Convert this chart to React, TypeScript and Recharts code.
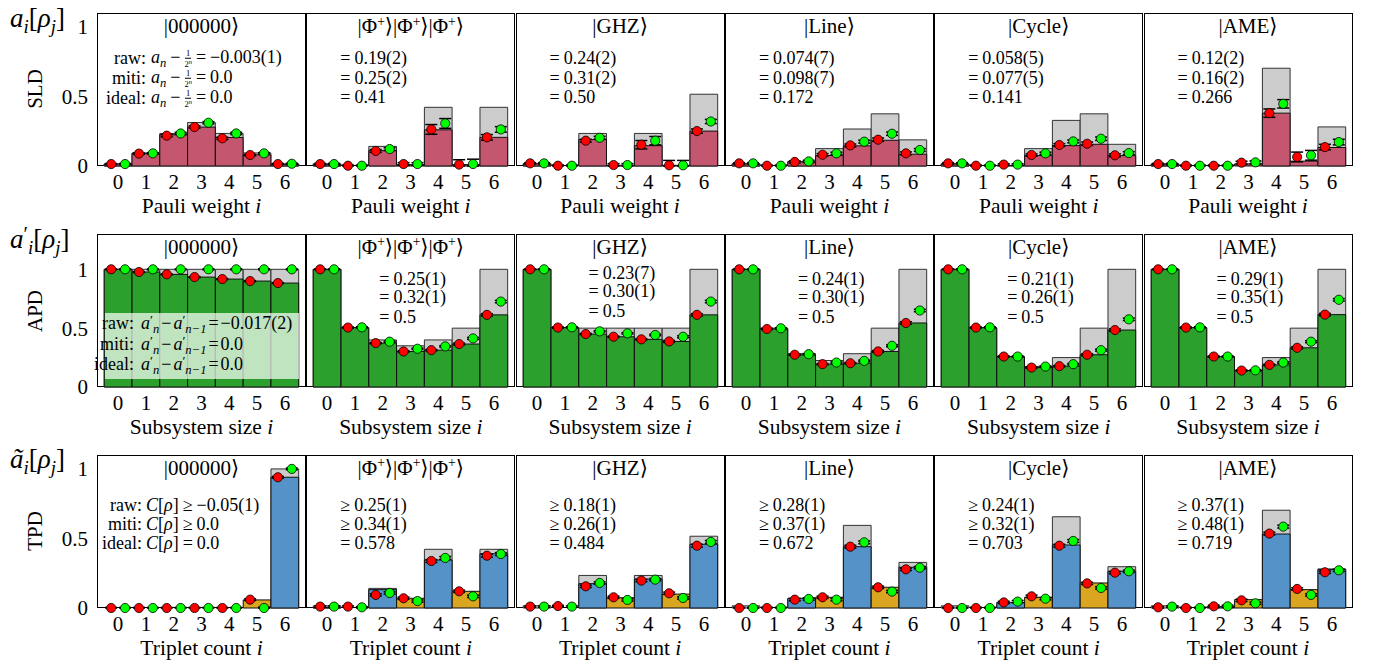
import React from "react";
import { ComposedChart, Bar, Scatter, XAxis, YAxis, ErrorBar, Cell } from "recharts";

// ── layout ──
const SERIF = "'Liberation Serif', 'Times New Roman', 'DejaVu Serif', serif";
const COL_X = [97, 306.3, 515.6, 724.9, 934.2, 1143.5];
const ROW_TOP = [13, 233.5, 454.5];
const PW = 209;
const PH = 153;
const XAXIS_H = 30;
const LABEL_W = 45;
const XDOM = [-0.76, 6.76];
const DODGE = 0.25;

const PINK = "#c4566f";
const GREEN = "#2ca02c";
const BLUE = "#5592c8";
const GOLD = "#daa520";
const GRAY = "#cccccc";

// ── data ──
const IDX = [0, 1, 2, 3, 4, 5, 6];
const Y_TICKS = [0, 0.5, 1];
const STATES = ["000000", "Φ+", "GHZ", "Line", "Cycle", "AME"];

// Row 1: SLD (Pauli weight)
const sldIdeal = [
  [0.0156, 0.094, 0.234, 0.3125, 0.234, 0.094, 0.0156],
  [0.0156, 0, 0.141, 0, 0.422, 0, 0.422],
  [0.0156, 0, 0.234, 0, 0.234, 0, 0.516],
  [0.0156, 0, 0.031, 0.125, 0.266, 0.375, 0.188],
  [0.0156, 0, 0, 0.125, 0.328, 0.375, 0.156],
  [0.0156, 0, 0, 0, 0.703, 0, 0.281],
];
const sldBar = [
  [0.014, 0.089, 0.225, 0.28, 0.205, 0.08, 0.012],
  [0.012, 0, 0.11, 0.01, 0.26, 0.01, 0.206],
  [0.016, 0, 0.19, 0.005, 0.146, 0.005, 0.251],
  [0.015, 0, 0.03, 0.075, 0.145, 0.185, 0.085],
  [0.015, 0, 0.005, 0.075, 0.147, 0.156, 0.075],
  [0.013, 0, 0, 0.015, 0.38, 0.035, 0.133],
];
const sldRaw = [
  [0.014, 0.089, 0.218, 0.28, 0.199, 0.079, 0.014],
  [0.014, 0.002, 0.108, 0.014, 0.263, 0.01, 0.206],
  [0.019, 0.002, 0.182, 0.007, 0.153, 0.005, 0.251],
  [0.019, 0.002, 0.029, 0.081, 0.148, 0.189, 0.091],
  [0.019, 0.002, 0.01, 0.079, 0.151, 0.16, 0.077],
  [0.014, 0.002, 0.002, 0.024, 0.38, 0.065, 0.136],
];
const sldMiti = [
  [0.014, 0.091, 0.234, 0.311, 0.234, 0.091, 0.016],
  [0.014, 0.002, 0.122, 0.014, 0.306, 0.014, 0.263],
  [0.019, 0.002, 0.203, 0.007, 0.182, 0.005, 0.32],
  [0.019, 0.002, 0.033, 0.091, 0.175, 0.232, 0.115],
  [0.019, 0.002, 0.01, 0.091, 0.177, 0.196, 0.093],
  [0.014, 0.002, 0.002, 0.026, 0.447, 0.077, 0.172],
];
const sldErr = [
  [0.004, 0.005, 0.008, 0.008, 0.008, 0.005, 0.004],
  [0.005, 0.005, 0.01, 0.01, 0.035, 0.035, 0.02],
  [0.005, 0.005, 0.01, 0.01, 0.03, 0.035, 0.015],
  [0.005, 0.005, 0.008, 0.008, 0.01, 0.012, 0.01],
  [0.005, 0.005, 0.006, 0.008, 0.01, 0.012, 0.01],
  [0.005, 0.005, 0.005, 0.01, 0.03, 0.035, 0.02],
];

// Row 2: APD (subsystem size)
const apdIdeal = [
  [1, 1, 1, 1, 1, 1, 1],
  [1, 0.5, 0.4, 0.35, 0.4, 0.5, 1],
  [1, 0.5, 0.5, 0.5, 0.5, 0.5, 1],
  [1, 0.5, 0.283, 0.225, 0.283, 0.5, 1],
  [1, 0.5, 0.25, 0.175, 0.25, 0.5, 1],
  [1, 0.5, 0.25, 0.125, 0.25, 0.5, 1],
];
const apdRaw = [
  [1.0, 0.977, 0.957, 0.934, 0.917, 0.9, 0.883],
  [1.0, 0.505, 0.373, 0.302, 0.313, 0.365, 0.613],
  [1.0, 0.505, 0.45, 0.427, 0.405, 0.387, 0.613],
  [1.0, 0.493, 0.274, 0.194, 0.202, 0.302, 0.544],
  [1.0, 0.505, 0.259, 0.165, 0.177, 0.274, 0.484],
  [1.0, 0.505, 0.259, 0.14, 0.188, 0.333, 0.615],
];
const apdMiti = [
  [1.0, 1.0, 1.0, 1.0, 1.0, 1.0, 1.0],
  [1.0, 0.507, 0.385, 0.325, 0.345, 0.413, 0.726],
  [1.0, 0.507, 0.473, 0.456, 0.442, 0.427, 0.726],
  [1.0, 0.499, 0.279, 0.208, 0.222, 0.35, 0.65],
  [1.0, 0.507, 0.259, 0.174, 0.194, 0.313, 0.575],
  [1.0, 0.507, 0.259, 0.142, 0.208, 0.385, 0.741],
];
const apdErr = [
  [0.003, 0.004, 0.004, 0.004, 0.004, 0.004, 0.004],
  [0.003, 0.005, 0.005, 0.005, 0.006, 0.008, 0.01],
  [0.003, 0.005, 0.005, 0.005, 0.006, 0.008, 0.01],
  [0.003, 0.005, 0.005, 0.005, 0.006, 0.008, 0.01],
  [0.003, 0.005, 0.005, 0.005, 0.006, 0.008, 0.01],
  [0.003, 0.005, 0.005, 0.005, 0.006, 0.008, 0.01],
];

// Row 3: TPD (triplet count)
const tpdIdeal = [
  [0, 0, 0, 0, 0, 0, 1],
  [0.0156, 0, 0.141, 0, 0.422, 0, 0.422],
  [0.0156, 0, 0.234, 0, 0.234, 0, 0.516],
  [0.0156, 0, 0.0625, 0, 0.594, 0, 0.328],
  [0.0156, 0, 0.031, 0, 0.656, 0, 0.297],
  [0.0156, 0, 0, 0, 0.703, 0, 0.281],
];
const tpdBar = [
  [0, 0, 0, 0, 0, 0.058, 0.94],
  [0.005, 0, 0.132, 0.07, 0.345, 0.12, 0.39],
  [0, 0, 0.175, 0.074, 0.208, 0.1, 0.458],
  [0, 0, 0.07, 0.077, 0.441, 0.149, 0.293],
  [0, 0, 0.04, 0.077, 0.453, 0.18, 0.264],
  [0, 0, 0.01, 0.06, 0.532, 0.132, 0.276],
];
const tpdRaw = [
  [0, 0, 0, 0, 0, 0.06, 0.94],
  [0.01, 0.01, 0.094, 0.07, 0.338, 0.12, 0.376],
  [0.01, 0.014, 0.156, 0.077, 0.197, 0.106, 0.448],
  [0, 0, 0.06, 0.077, 0.441, 0.149, 0.278],
  [0, 0, 0.04, 0.084, 0.448, 0.177, 0.254],
  [0.005, 0, 0.012, 0.055, 0.535, 0.137, 0.257],
];
const tpdMiti = [
  [0, 0, 0, 0, 0, 0, 1.0],
  [0.01, 0.005, 0.108, 0.05, 0.36, 0.084, 0.388],
  [0.01, 0.01, 0.18, 0.058, 0.204, 0.072, 0.475],
  [0, 0, 0.065, 0.06, 0.472, 0.118, 0.29],
  [0, 0, 0.046, 0.067, 0.482, 0.144, 0.264],
  [0.01, 0, 0.012, 0.034, 0.585, 0.094, 0.271],
];
const tpdErr = [
  [0.004, 0.004, 0.004, 0.004, 0.004, 0.006, 0.006],
  [0.005, 0.005, 0.008, 0.008, 0.01, 0.008, 0.01],
  [0.005, 0.005, 0.008, 0.008, 0.008, 0.008, 0.01],
  [0.005, 0.005, 0.008, 0.008, 0.01, 0.008, 0.008],
  [0.005, 0.005, 0.008, 0.008, 0.01, 0.008, 0.008],
  [0.005, 0.005, 0.008, 0.008, 0.01, 0.008, 0.008],
];

// annotations (panels 2..6)
const sldNotes = [
  ["0.19(2)", "0.25(2)", "0.41"],
  ["0.24(2)", "0.31(2)", "0.50"],
  ["0.074(7)", "0.098(7)", "0.172"],
  ["0.058(5)", "0.077(5)", "0.141"],
  ["0.12(2)", "0.16(2)", "0.266"],
];
const apdNotes = [
  ["0.25(1)", "0.32(1)", "0.5"],
  ["0.23(7)", "0.30(1)", "0.5"],
  ["0.24(1)", "0.30(1)", "0.5"],
  ["0.21(1)", "0.26(1)", "0.5"],
  ["0.29(1)", "0.35(1)", "0.5"],
];
const tpdNotes = [
  ["0.25(1)", "0.34(1)", "0.578"],
  ["0.18(1)", "0.26(1)", "0.484"],
  ["0.28(1)", "0.37(1)", "0.672"],
  ["0.24(1)", "0.32(1)", "0.703"],
  ["0.37(1)", "0.48(1)", "0.719"],
];

const ROWS = [
  { ideal: sldIdeal, bar: sldBar, raw: sldRaw, miti: sldMiti, err: sldErr, max: 1.1, fill: PINK, xlabel: "Pauli weight", notes: sldNotes, rel: ["=", "=", "="], noteDx: 34, noteY: [58, 78, 97] },
  { ideal: apdIdeal, bar: apdRaw, raw: apdRaw, miti: apdMiti, err: apdErr, max: 1.3, fill: GREEN, xlabel: "Subsystem size", notes: apdNotes, rel: ["=", "=", "="], noteDx: 73, noteY: [279, 297, 317] },
  { ideal: tpdIdeal, bar: tpdBar, raw: tpdRaw, miti: tpdMiti, err: tpdErr, max: 1.1, fill: BLUE, xlabel: "Triplet count", notes: tpdNotes, rel: ["≥", "≥", "="], noteDx: 34, noteY: [505, 524, 543] },
];

// ── small text helpers ──
const I = ({ children }: any) => <span style={{ fontStyle: "italic" }}>{children}</span>;
const Sub = ({ children }: any) => (
  <span style={{ fontSize: "0.7em", fontStyle: "italic", position: "relative", top: "0.3em" }}>{children}</span>
);
const Op = ({ children, m = 4 }: any) => <span style={{ margin: `0 ${m}px` }}>{children}</span>;
const PrimeSub = ({ sub }: any) => (
  <>
    <span style={{ fontSize: "0.75em", position: "relative", top: "-0.35em" }}>′</span>
    <span style={{ fontSize: "0.7em", fontStyle: "italic", position: "relative", top: "0.3em" }}>{sub}</span>
  </>
);
const Frac = () => (
  <span style={{ display: "inline-flex", flexDirection: "column", alignItems: "center", verticalAlign: "middle", fontSize: 8.5, lineHeight: 0.95 }}>
    <span style={{ borderBottom: "0.8px solid #000", padding: "0 1px 1px" }}>1</span>
    <span style={{ paddingTop: 1 }}>
      2<span style={{ fontSize: 6.5, fontStyle: "italic", position: "relative", top: -3 }}>n</span>
    </span>
  </span>
);

function Abs({ x, y, children, size = 18, align = "left", style }: any) {
  const tx = align === "center" ? "-50%" : align === "right" ? "-100%" : "0";
  return (
    <div
      style={{
        position: "absolute",
        left: x,
        top: y,
        transform: `translate(${tx}, -50%)`,
        fontSize: size,
        fontFamily: SERIF,
        whiteSpace: "nowrap",
        lineHeight: 1,
        color: "#000",
        ...style,
      }}
    >
      {children}
    </div>
  );
}

function Ket({ name }: { name: string }) {
  if (name === "Φ+") {
    const one = (k: number) => (
      <span key={k}>
        |Φ<span style={{ fontSize: "0.65em", position: "relative", top: "-0.55em" }}>+</span>⟩
      </span>
    );
    return <>{[0, 1, 2].map(one)}</>;
  }
  return <span>|{name}⟩</span>;
}

// ── one panel ──
function Panel({ r, c }: { r: number; c: number }) {
  const spec = ROWS[r];
  const data = IDX.map((i) => ({ x: i, ideal: spec.ideal[c][i], bar: spec.bar[c][i] }));
  const pts = (src: number[][], dx: number) =>
    IDX.map((i) => ({ x: i + dx, y: src[c][i], e: [Math.min(spec.err[c][i], src[c][i]), spec.err[c][i]] }));
  const red = pts(spec.raw, -DODGE);
  const green = pts(spec.miti, DODGE);
  const extra = c === 0 ? LABEL_W : 0;
  const tickStyle = { fontSize: 21, fill: "#000", fontFamily: SERIF };
  const dot = (fill: string) => (p: any) => (
    <circle cx={p.cx} cy={p.cy} r={4.6} fill={fill} stroke="#000" strokeWidth={0.8} />
  );

  return (
    <div style={{ position: "absolute", left: COL_X[c] - extra, top: ROW_TOP[r] }}>
      <ComposedChart
        width={PW + extra}
        height={PH + XAXIS_H}
        data={data}
        margin={{ top: 0, right: 0, bottom: 0, left: 0 }}
        barCategoryGap={0}
        barGap={0}
      >
        <XAxis
          xAxisId="a"
          type="number"
          dataKey="x"
          domain={XDOM}
          ticks={IDX}
          interval={0}
          height={XAXIS_H}
          tickLine={false}
          axisLine={false}
          tickSize={0}
          tickMargin={8}
          tick={tickStyle}
        />
        <XAxis xAxisId="b" type="number" dataKey="x" domain={XDOM} ticks={IDX} hide />
        <XAxis xAxisId="pts" type="number" dataKey="x" domain={XDOM} ticks={IDX} hide />
        <YAxis
          yAxisId="v"
          type="number"
          domain={[0, spec.max]}
          ticks={Y_TICKS}
          hide={c !== 0}
          width={LABEL_W}
          tickLine={false}
          axisLine={false}
          tickSize={0}
          tickMargin={9}
          tick={tickStyle}
          tickFormatter={(v: number) => String(v)}
        />
        <YAxis
          yAxisId="m"
          type="number"
          domain={[0, spec.max]}
          ticks={Y_TICKS}
          mirror
          tick={false}
          axisLine={false}
          tickSize={4}
          tickLine={{ stroke: "#000", strokeWidth: 1 }}
        />
        <Bar xAxisId="b" yAxisId="v" dataKey="ideal" barSize={27.7} fill={GRAY} stroke="#333" strokeWidth={1} isAnimationActive={false} />
        <Bar xAxisId="a" yAxisId="v" dataKey="bar" barSize={27.7} fill={spec.fill} stroke="#111" strokeWidth={1} isAnimationActive={false}>
          {data.map((d) => (
            <Cell key={d.x} fill={r === 2 ? (d.x % 2 === 1 ? GOLD : BLUE) : spec.fill} />
          ))}
        </Bar>
        <Scatter xAxisId="pts" yAxisId="v" data={red} dataKey="y" shape={dot("#ff0000")} isAnimationActive={false}>
          <ErrorBar dataKey="e" direction="y" width={6} stroke="#000" strokeWidth={1.5} isAnimationActive={false} />
        </Scatter>
        <Scatter xAxisId="pts" yAxisId="v" data={green} dataKey="y" shape={dot("#00ff00")} isAnimationActive={false}>
          <ErrorBar dataKey="e" direction="y" width={6} stroke="#000" strokeWidth={1.5} isAnimationActive={false} />
        </Scatter>
      </ComposedChart>
    </div>
  );
}

export default function App() {
  const cells: [number, number][] = [];
  ROW_TOP.forEach((_, r) => COL_X.forEach((__, c) => cells.push([r, c])));
  const labs = ["raw:", "miti:", "ideal:"];

  return (
    <div style={{ position: "absolute", left: 0, top: 0, width: 1384, height: 666, background: "#fff", fontFamily: SERIF }}>
      {/* panel frames (under the charts so dots sit over the axis) */}
      {cells.map(([r, c]) => (
        <div
          key={`f${r}${c}`}
          style={{ position: "absolute", left: COL_X[c], top: ROW_TOP[r], width: PW, height: PH, border: "1px solid #000", boxSizing: "border-box" }}
        />
      ))}

      {cells.map(([r, c]) => (
        <Panel key={`p${r}${c}`} r={r} c={c} />
      ))}

      {/* translucent legend box over the first APD panel */}
      <div style={{ position: "absolute", left: 105, top: 313, width: 194, height: 66, background: "rgba(255,255,255,0.7)" }} />

      {/* titles and x labels */}
      {cells.map(([r, c]) => (
        <React.Fragment key={`t${r}${c}`}>
          <Abs x={COL_X[c] + PW / 2} y={ROW_TOP[r] + 13} size={21} align="center">
            <Ket name={STATES[c]} />
          </Abs>
          <Abs x={COL_X[c] + PW / 2} y={ROW_TOP[r] + PH + 41} size={21.5} align="center">
            {ROWS[r].xlabel} <I>i</I>
          </Abs>
        </React.Fragment>
      ))}

      {/* per-panel values */}
      {ROWS.map((spec, r) =>
        spec.notes.map((lines, k) =>
          lines.map((txt, j) => (
            <Abs
              key={`n${r}${k}${j}`}
              x={COL_X[k + 1] + spec.noteDx}
              y={spec.noteY[j] - (r === 1 && k === 1 ? 6 : 0)}
            >
              <span style={{ marginRight: 4 }}>{spec.rel[j]}</span>
              {txt}
            </Abs>
          ))
        )
      )}

      {/* first-column formulas, SLD */}
      {labs.map((lab, j) => (
        <React.Fragment key={`s${j}`}>
          <Abs x={146} y={[58, 78, 98][j]} align="right">{lab}</Abs>
          <Abs x={151} y={[58, 78, 98][j]}>
            <I>a</I>
            <Sub>n</Sub>
            <Op>−</Op>
            <Frac />
            <Op>=</Op>
            {["−0.003(1)", "0.0", "0.0"][j]}
          </Abs>
        </React.Fragment>
      ))}
      {/* APD */}
      {labs.map((lab, j) => (
        <React.Fragment key={`a${j}`}>
          <Abs x={134} y={[323, 344, 364][j]} align="right">{lab}</Abs>
          <Abs x={141} y={[323, 344, 364][j]}>
            <I>a</I>
            <PrimeSub sub="n" />
            <Op m={2}>−</Op>
            <I>a</I>
            <PrimeSub sub="n−1" />
            <Op m={2}>=</Op>
            {["−0.017(2)", "0.0", "0.0"][j]}
          </Abs>
        </React.Fragment>
      ))}
      {/* TPD */}
      {labs.map((lab, j) => (
        <React.Fragment key={`c${j}`}>
          <Abs x={142} y={[505, 524, 543][j]} align="right">{lab}</Abs>
          <Abs x={146} y={[505, 524, 543][j]}>
            <I>C</I>[<I>ρ</I>]<Op>{["≥", "≥", "="][j]}</Op>
            {["−0.05(1)", "0.0", "0.0"][j]}
          </Abs>
        </React.Fragment>
      ))}

      {/* row labels */}
      {["SLD", "APD", "TPD"].map((t, r) => (
        <Abs key={t} x={35} y={[89, 311, 531][r]} size={21} align="center" style={{ transform: "translate(-50%, -50%) rotate(-90deg)" }}>
          {t}
        </Abs>
      ))}
      <Abs x={10} y={18} size={27}>
        <I>a</I>
        <Sub>i</Sub>[<I>ρ</I>
        <Sub>j</Sub>]
      </Abs>
      <Abs x={10} y={239} size={27}>
        <I>a</I>
        <PrimeSub sub="i" />[<I>ρ</I>
        <Sub>j</Sub>]
      </Abs>
      <Abs x={10} y={459} size={27}>
        <I>ã</I>
        <Sub>i</Sub>[<I>ρ</I>
        <Sub>j</Sub>]
      </Abs>
    </div>
  );
}
